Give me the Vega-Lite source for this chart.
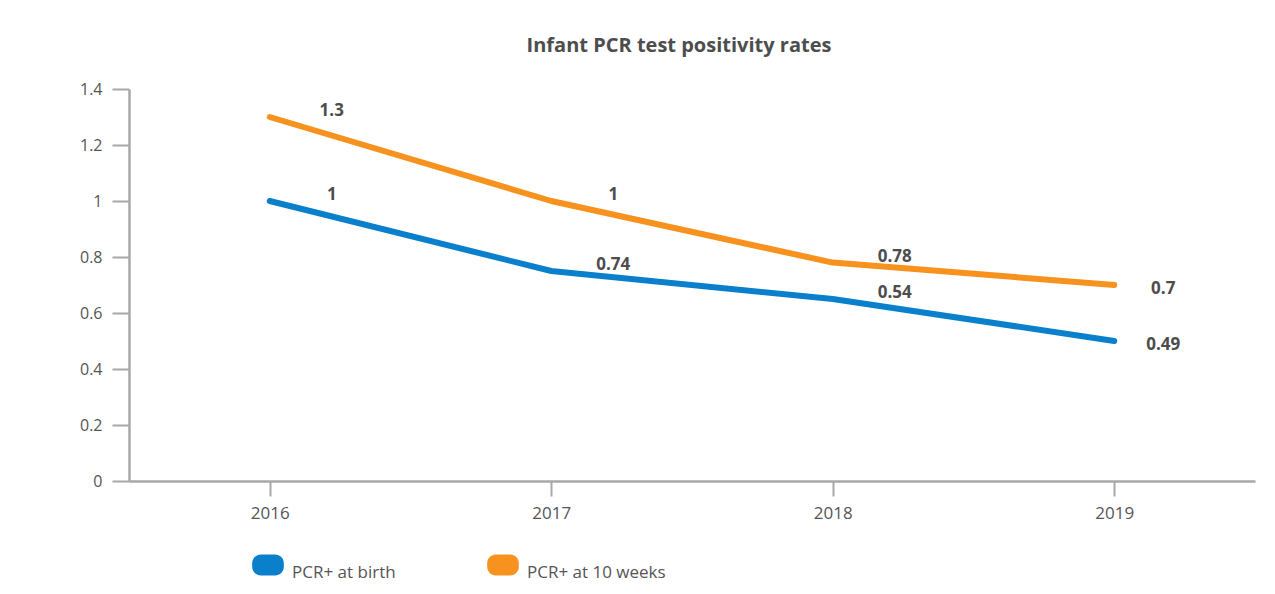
{
  "$schema": "https://vega.github.io/schema/vega-lite/v6.json",
  "autosize": {"type": "none"},
  "padding": {"left": 129, "top": 89, "right": 20, "bottom": 113},
  "width": 1126,
  "height": 392,
  "background": "white",
  "title": {
    "text": "Infant PCR test positivity rates",
    "font": "Open Sans",
    "fontSize": 20,
    "fontWeight": "bold",
    "color": "#4d4d4d",
    "anchor": "middle",
    "dx": -13,
    "offset": 25
  },
  "data": {
    "values": [
      {"year": "2016", "series": "PCR+ at birth", "value": 1.0, "label": "1"},
      {"year": "2017", "series": "PCR+ at birth", "value": 0.75, "label": "0.74"},
      {"year": "2018", "series": "PCR+ at birth", "value": 0.65, "label": "0.54"},
      {"year": "2019", "series": "PCR+ at birth", "value": 0.5, "label": "0.49"},
      {"year": "2016", "series": "PCR+ at 10 weeks", "value": 1.3, "label": "1.3"},
      {"year": "2017", "series": "PCR+ at 10 weeks", "value": 1.0, "label": "1"},
      {"year": "2018", "series": "PCR+ at 10 weeks", "value": 0.78, "label": "0.78"},
      {"year": "2019", "series": "PCR+ at 10 weeks", "value": 0.7, "label": "0.7"}
    ]
  },
  "encoding": {
    "x": {
      "field": "year",
      "type": "ordinal",
      "scale": {"type": "point", "padding": 0.5},
      "axis": {
        "title": null,
        "labelAngle": 0,
        "labelFont": "Open Sans",
        "labelFontSize": 17,
        "labelColor": "#555555",
        "labelPadding": 9,
        "tickSize": 15,
        "tickWidth": 2,
        "tickColor": "#a8a8a8",
        "domainColor": "#a8a8a8",
        "domainWidth": 2.5,
        "grid": false
      }
    },
    "y": {
      "field": "value",
      "type": "quantitative",
      "scale": {"domain": [0, 1.4], "nice": false},
      "axis": {
        "title": null,
        "values": [0, 0.2, 0.4, 0.6, 0.8, 1, 1.2, 1.4],
        "format": "~g",
        "labelFont": "Open Sans",
        "labelFontSize": 16,
        "labelColor": "#555555",
        "labelPadding": 10,
        "tickSize": 17,
        "tickWidth": 2,
        "tickColor": "#a8a8a8",
        "domainColor": "#a8a8a8",
        "domainWidth": 2.5,
        "grid": false
      }
    }
  },
  "layer": [
    {
      "mark": {"type": "line", "strokeWidth": 6, "strokeCap": "round", "strokeJoin": "round"},
      "encoding": {
        "color": {
          "field": "series",
          "type": "nominal",
          "scale": {"domain": ["PCR+ at birth", "PCR+ at 10 weeks"], "range": ["#0a80cc", "#f7921e"]},
          "legend": {
            "title": null,
            "orient": "none",
            "direction": "horizontal",
            "legendX": 123,
            "legendY": 460,
            "symbolType": "M -0.45,-0.66 L 0.45,-0.66 A 0.55,0.55 0 0 1 1,-0.11 L 1,0.11 A 0.55,0.55 0 0 1 0.45,0.66 L -0.45,0.66 A 0.55,0.55 0 0 1 -1,0.11 L -1,-0.11 A 0.55,0.55 0 0 1 -0.45,-0.66 Z",
            "symbolSize": 1000,
            "symbolStrokeWidth": 0,
            "labelFont": "Open Sans",
            "labelFontSize": 17,
            "labelColor": "#555555",
            "labelBaseline": "top",
            "labelOffset": 8,
            "labelLimit": 300,
            "columnPadding": 91,
            "encode": {
              "symbols": {
                "update": {
                  "fill": {"scale": "color", "field": "value"},
                  "fillOpacity": {"value": 1},
                  "strokeWidth": {"value": 0}
                }
              }
            }
          }
        }
      }
    },
    {
      "transform": [{"filter": "datum.year != '2019'"}],
      "mark": {"type": "text", "font": "Open Sans", "fontSize": 17, "fontWeight": "bold", "color": "#4d4d4d", "dx": 62, "dy": -6},
      "encoding": {"text": {"field": "label"}}
    },
    {
      "transform": [{"filter": "datum.year == '2019'"}],
      "mark": {"type": "text", "font": "Open Sans", "fontSize": 17, "fontWeight": "bold", "color": "#4d4d4d", "dx": 49, "dy": 4},
      "encoding": {"text": {"field": "label"}}
    }
  ],
  "config": {"view": {"stroke": null}}
}
